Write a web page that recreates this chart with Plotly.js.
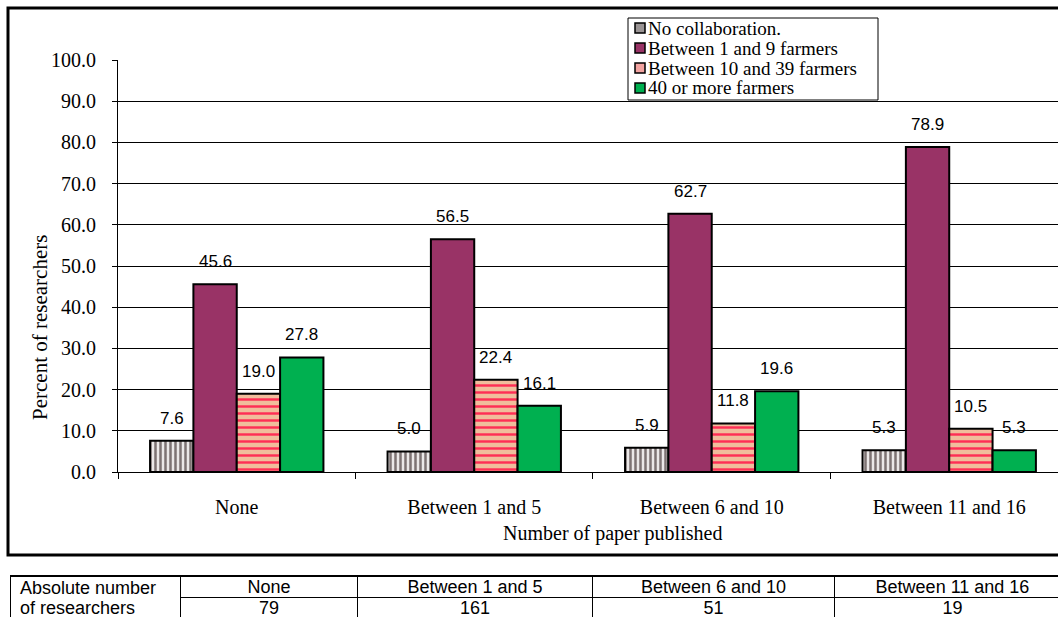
<!DOCTYPE html>
<html>
<head>
<meta charset="utf-8">
<script src="https://cdn.plot.ly/plotly-3.0.1.min.js"></script>
<style>
  html, body { margin: 0; padding: 0; background: #fff; overflow: hidden; }
  #chart { position: absolute; left: 0; top: 0; width: 1058px; height: 617px; }
  #tbl { position: absolute; left: 10px; top: 575px; width: 1100px; z-index: 5; }
  #tbl table { border-collapse: collapse; font-family: "Liberation Sans", Arial, sans-serif; font-size: 18px; color: #000; table-layout: fixed; width: 1060px; }
  #tbl td { border: 1px solid #000; padding: 0; height: 20px; line-height: 20px; text-align: center; white-space: nowrap; }
  #tbl td.first { text-align: left; padding-left: 9px; vertical-align: middle; }
  #tbl tr.top td { border-top: 2px solid #000; }
</style>
</head>
<body>
<div id="chart"></div>
<div id="tbl"></div>
<script>
// ---- data ----
var categories = ["None", "Between 1 and 5", "Between 6 and 10", "Between 11 and 16"];
var seriesNames = ["No collaboration.", "Between 1 and 9 farmers", "Between 10 and 39 farmers", "40 or more farmers"];
var noCollaboration = [7.6, 5.0, 5.9, 5.3];
var farmers1to9 = [45.6, 56.5, 62.7, 78.9];
var farmers10to39 = [19.0, 22.4, 11.8, 10.5];
var farmers40plus = [27.8, 16.1, 19.6, 5.3];
var tableRowLabel = ["Absolute number", "of researchers"];
var researchersCount = [79, 161, 51, 19];
var yTickValues = [0, 10, 20, 30, 40, 50, 60, 70, 80, 90, 100];

// ---- styling ----
var serif = "Liberation Serif, Times New Roman, serif";
var allSeries = [noCollaboration, farmers1to9, farmers10to39, farmers40plus];
var markers = [
  { color: "#d8d4d4", line: { color: "#000", width: 2 },
    pattern: { shape: "|", fgcolor: "#7d7373", bgcolor: "#ebe8e8", size: 5, solidity: 0.5 } },
  { color: "#993366", line: { color: "#000", width: 2 } },
  { color: "#f3c3a3", line: { color: "#000", width: 2 },
    pattern: { shape: "-", fgcolor: "#ff2e55", bgcolor: "#f0bd9c", size: 7, solidity: 0.35 } },
  { color: "#00b050", line: { color: "#000", width: 2 } }
];
var legendSwatch = ["#9a9494", "#993366", "#f2a3a0", "#00b050"];

// plot-area pixel geometry helpers (plot spans x 118..1058, y 60..472)
var PL = 118, PW = 940, PB = 472, PH = 412;
function px2x(px) { return (px - PL) / PW; }
function py2y(py) { return (PB - py) / PH; }

var bargap = 0.27;
var traces = allSeries.map(function (vals, j) {
  return {
    type: "bar",
    name: seriesNames[j],
    x: categories,
    y: vals,
    marker: markers[j],
    showlegend: false,
    hoverinfo: "skip"
  };
});

// value labels above bars
var annotations = [];
var shapes = [];
var nS = allSeries.length;
var bw = (1 - bargap) / nS;
allSeries.forEach(function (vals, j) {
  vals.forEach(function (v, i) {
    annotations.push({
      x: i - (1 - bargap) / 2 + (j + 0.5) * bw,
      y: v,
      xref: "x", yref: "y",
      text: v.toFixed(1),
      showarrow: false,
      yanchor: "bottom",
      yshift: 11,
      font: { family: "Liberation Sans, Arial, sans-serif", size: 17, color: "#000" }
    });
  });
});

// axis titles
annotations.push({
  xref: "paper", yref: "paper", x: px2x(40), y: py2y(328),
  xanchor: "center", yanchor: "middle",
  text: "Percent of researchers", textangle: -90, showarrow: false,
  font: { family: serif, size: 21, color: "#000" }
});
annotations.push({
  xref: "paper", yref: "paper", x: px2x(612), y: py2y(533),
  xanchor: "center", yanchor: "middle",
  text: "Number of paper published", showarrow: false,
  font: { family: serif, size: 20, color: "#000" }
});

// legend (box, swatches, labels)
shapes.push({
  type: "rect", xref: "paper", yref: "paper",
  x0: px2x(628), x1: px2x(878), y0: py2y(100), y1: py2y(18),
  line: { color: "#000", width: 1 }, fillcolor: "#fff", layer: "above"
});
seriesNames.forEach(function (name, j) {
  var cy = 28 + j * 20;
  shapes.push({
    type: "rect", xref: "paper", yref: "paper",
    x0: px2x(635), x1: px2x(645), y0: py2y(cy + 5), y1: py2y(cy - 5),
    line: { color: "#000", width: 1.5 }, fillcolor: legendSwatch[j], layer: "above"
  });
  annotations.push({
    xref: "paper", yref: "paper", x: px2x(646), y: py2y(cy),
    xanchor: "left", yanchor: "middle", showarrow: false,
    text: name,
    font: { family: serif, size: 19, color: "#000" }
  });
});

// outer frame
shapes.push({
  type: "rect", xref: "paper", yref: "paper",
  x0: px2x(8), x1: px2x(1075), y0: py2y(555), y1: py2y(8),
  line: { color: "#000", width: 3 }, fillcolor: "rgba(0,0,0,0)", layer: "above"
});

var layout = {
  width: 1058, height: 617,
  margin: { l: 118, r: 0, t: 60, b: 145 },
  paper_bgcolor: "#fff", plot_bgcolor: "#fff",
  barmode: "group",
  bargap: bargap,
  bargroupgap: 0,
  showlegend: false,
  xaxis: {
    type: "category",
    range: [-0.5, 3.458],
    showgrid: false,
    showline: true, linecolor: "#000", linewidth: 1,
    ticks: "outside", tickson: "boundaries", ticklen: 6, tickcolor: "#000", tickwidth: 1,
    tickfont: { family: serif, size: 20, color: "#000" },
    ticklabelstandoff: 17,
    zeroline: false
  },
  yaxis: {
    range: [0, 100],
    tickvals: yTickValues,
    ticktext: yTickValues.map(function (v) { return v.toFixed(1); }),
    showgrid: true, gridcolor: "#000", gridwidth: 1,
    showline: true, linecolor: "#000", linewidth: 1,
    ticks: "outside", ticklen: 5, tickcolor: "#000",
    tickfont: { family: serif, size: 20, color: "#000" },
    ticklabelstandoff: 12,
    zeroline: false
  },
  annotations: annotations,
  shapes: shapes
};

Plotly.newPlot("chart", traces, layout, { staticPlot: true, displayModeBar: false });

// ---- table ----
var colWidths = [170, 177, 235, 242, 236];
var html = "<table><colgroup>";
colWidths.forEach(function (w) { html += '<col style="width:' + w + 'px">'; });
html += "</colgroup>";
html += '<tr class="top"><td class="first" rowspan="2">' + tableRowLabel[0] + "<br>" + tableRowLabel[1] + "</td>";
categories.forEach(function (c) { html += "<td>" + c + "</td>"; });
html += "</tr><tr>";
researchersCount.forEach(function (n) { html += "<td>" + n + "</td>"; });
html += "</tr></table>";
document.getElementById("tbl").innerHTML = html;
</script>
</body>
</html>
